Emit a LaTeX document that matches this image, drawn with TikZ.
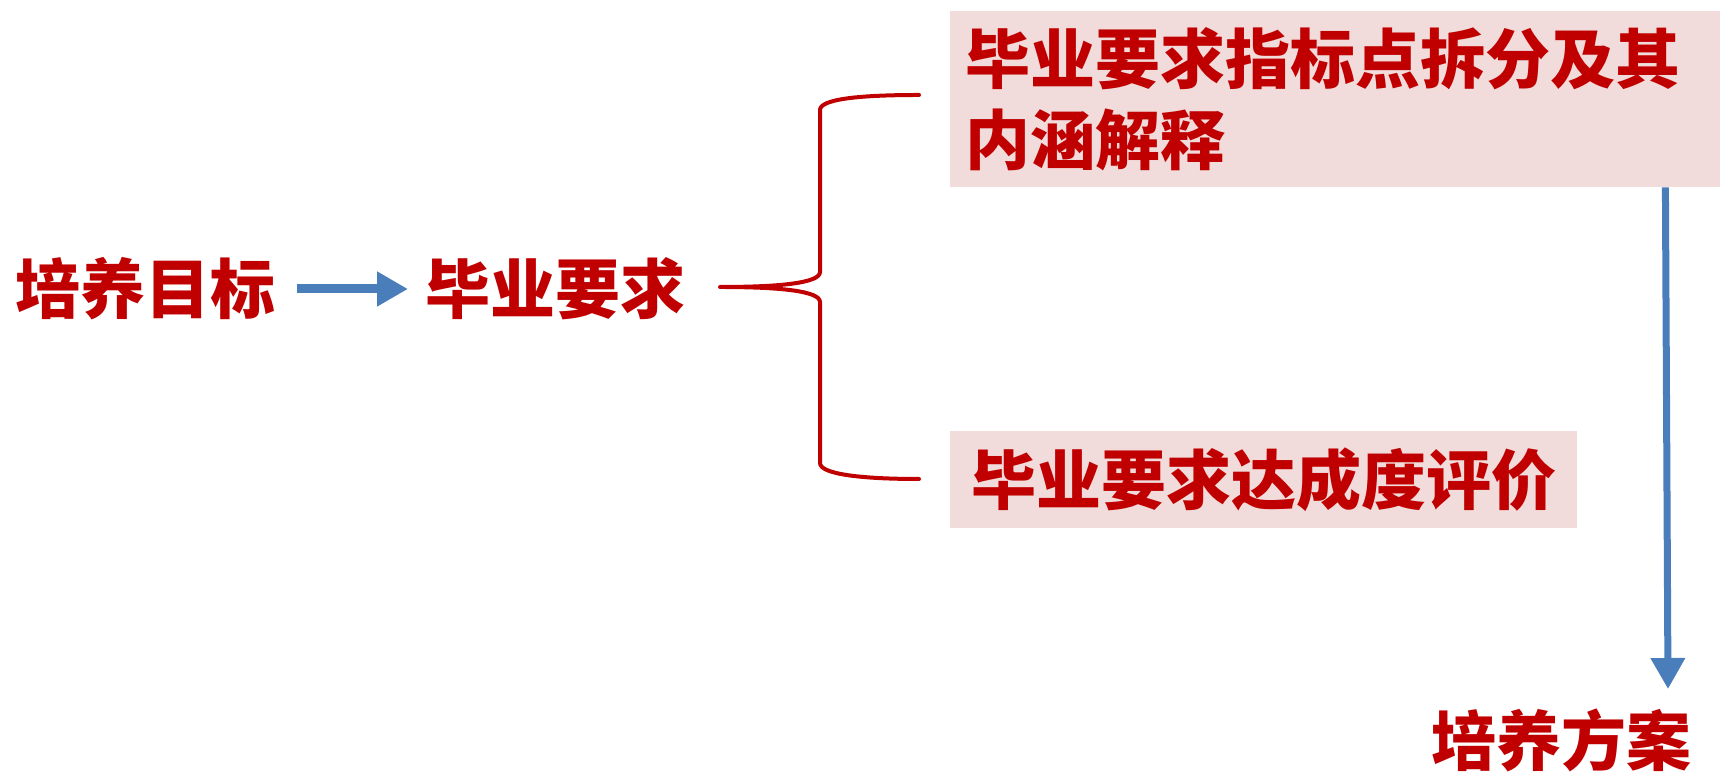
\documentclass[tikz,border=0pt]{standalone}
\usepackage{fontspec}
\newfontfamily\cjk{Noto Sans CJK SC}
\usetikzlibrary{arrows.meta,calc}
\definecolor{tred}{RGB}{192,0,0}
\definecolor{tpink}{RGB}{242,220,219}
\definecolor{tblue}{RGB}{74,126,187}
\tikzset{
  lbl/.style={text=tred, font=\cjk\bfseries\fontsize{65}{81}\selectfont, inner sep=0pt},
  pinkbox/.style={lbl, fill=tpink, inner xsep=15pt, inner ysep=0pt},
  bluearrow/.style={draw=tblue, -{Triangle[length=31pt,width=33pt]}},
  brace/.style={draw=tred, line width=4pt, line cap=round, line join=round}
}
\begin{document}
\begin{tikzpicture}[x=1pt,y=1pt]
\useasboundingbox (0,0) rectangle (1720,775);
\node[lbl] (goal) at (145,486) {培养目标};
\node[lbl] (req) at (555,486) {毕业要求};
\node[pinkbox, anchor=north west, text width=740pt, align=left, minimum height=176pt] (topbox) at (950,764) {毕业要求指标点拆分及其\\内涵解释};
\node[pinkbox, minimum width=627pt, minimum height=97pt] (botbox) at (1263.5,295.5) {毕业要求达成度评价};
\node[lbl] (plan) at (1561,35) {培养方案};
\coordinate (tip) at (720,488);
\coordinate (btop) at (919,680);
\coordinate (bbot) at (919,296);
\coordinate (arrowend) at (1668,86);
\draw[bluearrow, line width=9pt] (goal.east) ++(22,0) coordinate (g0) (g0) -- (req.west -| 408,0);
\draw[brace] (btop) .. controls (860,680) and (820,676) .. (820,665) -- (820,503)
  .. controls (820,492) and (780,488) .. (tip)
  .. controls (780,488) and (820,484) .. (820,473) -- (820,312)
  .. controls (820,301) and (860,296) .. (bbot);
\draw[bluearrow, line width=7pt] ($(topbox.south east)+(-55,0)$) -- (arrowend);
\end{tikzpicture}
\end{document}
